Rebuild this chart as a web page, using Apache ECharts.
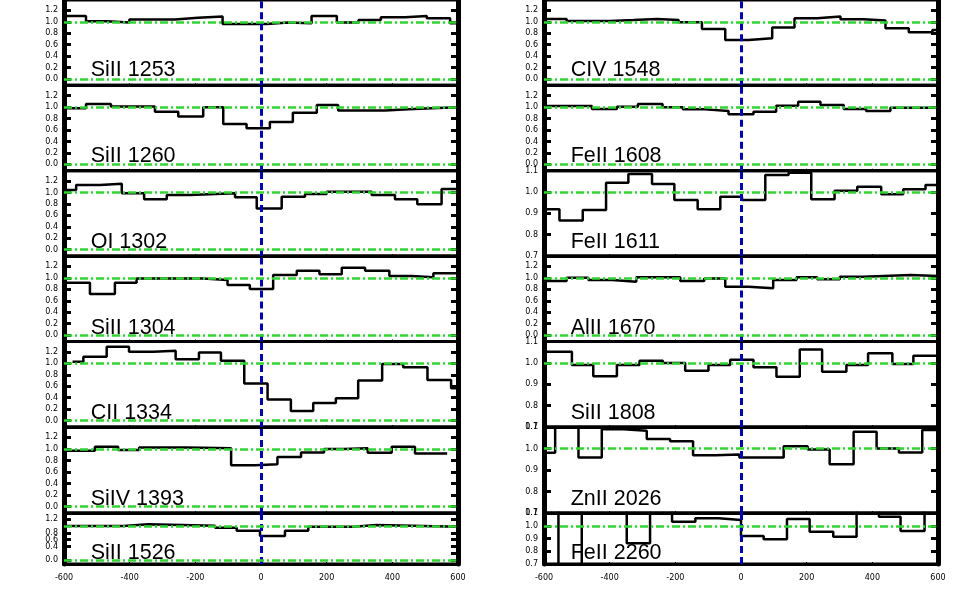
<!DOCTYPE html>
<html><head><meta charset="utf-8">
<script src="https://cdn.jsdelivr.net/npm/echarts@6/dist/echarts.min.js"></script>
<style>html,body{margin:0;padding:0;background:#fff}#c{width:960px;height:600px}</style>
</head><body><div id="c"></div>
<script>
// ---------- data ----------
const xTicks = [-600, -400, -200, 0, 200, 400, 600];
const yTicksStd = [0.0, 0.2, 0.4, 0.6, 0.8, 1.0, 1.2];
const yTicksZoom = [0.7, 0.8, 0.9, 1.0, 1.1];

// left column
const edges_SiII1253 = [-600, -533, -470, -401, -262, -192, -117, 17, 83, 154, 231, 297, 365, 439, 505, 576, 600];
const flux_SiII1253  = [1.10, 1.01, 0.985, 1.04, 1.07, 1.09, 0.96, 0.985, 0.975, 1.10, 0.985, 1.03, 1.08, 1.10, 1.06, 0.975];
const edges_SiII1260 = [-600, -533, -457, -323, -252, -176, -115, -44, 27, 97, 170, 235, 378, 449, 520, 600];
const flux_SiII1260  = [0.98, 1.055, 1.008, 0.92, 0.835, 0.997, 0.705, 0.63, 0.74, 0.90, 1.035, 0.94, 0.96, 0.98, 0.997];
const edges_OI1302 = [-600, -563, -490, -424, -356, -287, -216, -79, -13, 63, 134, 200, 337, 408, 476, 550, 600];
const flux_OI1302  = [1.044, 1.13, 1.15, 0.986, 0.88, 0.956, 0.986, 0.916, 0.72, 0.927, 0.974, 1.014, 0.956, 0.88, 0.794, 1.06];
const edges_SiII1304 = [-600, -521, -445, -379, -176, -102, -34, 37, 109, 178, 246, 317, 391, 459, 525, 600];
const flux_SiII1304  = [0.914, 0.717, 0.914, 0.99, 0.96, 0.874, 0.804, 1.05, 1.124, 1.06, 1.176, 1.124, 1.03, 1.01, 1.08];
const edges_CII1334 = [-574, -541, -470, -402, -328, -260, -189, -122, -51, 20, 91, 159, 228, 296, 369, 433, 507, 579, 600];
const flux_CII1334  = [1.028, 1.115, 1.29, 1.20, 1.22, 1.07, 1.19, 1.045, 0.65, 0.37, 0.167, 0.31, 0.39, 0.70, 0.988, 0.93, 0.71, 0.564];
const edges_SiIV1393 = [-600, -506, -435, -371, -226, -91, -18, 50, 122, 192, 253, 325, 398, 469, 567];
const flux_SiIV1393  = [0.967, 1.037, 0.98, 1.026, 1.01, 0.717, 0.735, 0.862, 0.94, 0.997, 1.01, 0.932, 1.037, 0.92];
const edges_SiII1526 = [-600, -419, -343, -140, -74, -3, 73, 144, 281, 352, 600];
const flux_SiII1526  = [1.0, 1.05, 1.01, 0.95, 0.86, 0.71, 0.86, 0.98, 1.03, 0.98];

// right column
const edges_CIV1548 = [-600, -531, -399, -328, -256, -190, -119, -48, 23, 95, 163, 232, 303, 374, 440, 511, 583, 600];
const flux_CIV1548  = [1.05, 1.014, 1.03, 1.05, 1.03, 0.99, 0.874, 0.68, 0.71, 0.90, 1.06, 1.09, 1.044, 1.02, 0.886, 0.817, 0.857];
const edges_FeII1608 = [-600, -454, -378, -314, -239, -177, -109, -38, 38, 107, 174, 242, 313, 381, 455, 600];
const flux_FeII1608  = [1.02, 0.967, 1.007, 1.054, 0.997, 0.96, 0.93, 0.873, 0.92, 1.024, 1.094, 1.037, 0.967, 0.93, 0.99];
const edges_FeII1611 = [-600, -553, -482, -411, -343, -271, -203, -132, -63, 3, 74, 145, 214, 285, 354, 427, 494, 562, 600];
const flux_FeII1611  = [0.919, 0.866, 0.916, 1.044, 1.085, 1.038, 0.963, 0.919, 0.978, 0.963, 1.08, 1.09, 0.966, 1.006, 1.025, 0.99, 1.013, 1.033];
const edges_AlII1670 = [-600, -531, -465, -393, -319, -185, -112, -48, 23, 98, 169, 232, 301, 372, 516, 600];
const flux_AlII1670  = [0.944, 1.002, 0.962, 0.932, 1.009, 0.944, 0.99, 0.845, 0.817, 0.962, 1.009, 0.974, 1.02, 1.05, 1.03];
const edges_SiII1808 = [-600, -515, -450, -378, -309, -238, -170, -99, -33, 38, 108, 179, 247, 321, 387, 461, 525, 600];
const flux_SiII1808  = [1.052, 0.99, 0.938, 0.99, 1.01, 1.0, 0.963, 0.99, 1.015, 0.979, 0.935, 1.063, 0.958, 0.99, 1.045, 0.995, 1.033];
const edges_ZnII2026 = [-600, -566, -495, -424, -358, -287, -216, -146, -78, -5, 130, 203, 270, 343, 413, 481, 552, 600];
const flux_ZnII2026  = [0.98, 1.12, 0.958, 1.089, 1.083, 1.044, 1.034, 0.969, 0.972, 0.958, 1.011, 0.995, 0.927, 1.078, 1.0, 0.981, 1.086];
const edges_FeII2260 = [-600, -556, -485, -348, -277, -210, -139, -68, 0, 69, 140, 209, 281, 352, 420, 486, 559, 600];
const flux_FeII2260  = [1.2, 0.6, 1.2, 0.862, 1.2, 1.032, 1.058, 1.045, 0.92, 0.894, 1.053, 0.953, 0.914, 1.2, 1.071, 0.959, 1.2];

const leftNames  = ['SiII 1253', 'SiII 1260', 'OI 1302', 'SiII 1304', 'CII 1334', 'SiIV 1393', 'SiII 1526'];
const rightNames = ['CIV 1548', 'FeII 1608', 'FeII 1611', 'AlII 1670', 'SiII 1808', 'ZnII 2026', 'FeII 2260'];
const leftEdges  = [edges_SiII1253, edges_SiII1260, edges_OI1302, edges_SiII1304, edges_CII1334, edges_SiIV1393, edges_SiII1526];
const leftFlux   = [flux_SiII1253, flux_SiII1260, flux_OI1302, flux_SiII1304, flux_CII1334, flux_SiIV1393, flux_SiII1526];
const rightEdges = [edges_CIV1548, edges_FeII1608, edges_FeII1611, edges_AlII1670, edges_SiII1808, edges_ZnII2026, edges_FeII2260];
const rightFlux  = [flux_CIV1548, flux_FeII1608, flux_FeII1611, flux_AlII1670, flux_SiII1808, flux_ZnII2026, flux_FeII2260];
const leftZoom   = [false, false, false, false, false, false, false];
const rightZoom  = [false, false, true, false, true, true, true];

// ---------- layout ----------
const colLeft = [64, 544];
const colWidth = 394;
const rowTop = [0, 85.3, 170.7, 256, 341.5, 427, 513, 564];
const labelBase = [76.7, 162.3, 248, 334, 419.3, 505.7, 559.5];
const labelX = [90.7, 570.7];
const GREEN = '#2ed82e';
const BLUE = '#0000cc';
const FONT = 'DejaVu Sans';

const grid = [], xAxis = [], yAxis = [], series = [], title = [];

function addPanel(col, row, name, edges, flux, zoom) {
  const gi = grid.length;
  grid.push({left: colLeft[col], top: rowTop[row], width: colWidth, height: rowTop[row + 1] - rowTop[row],
    show: true, borderColor: '#000', borderWidth: 3, backgroundColor: 'transparent'});
  const last = row === 6;
  xAxis.push({type: 'value', gridIndex: gi, min: -600, max: 600, interval: 200,
    axisLine: {show: true, onZero: false, lineStyle: {color: '#000', width: 3}},
    axisTick: {show: true, inside: true, length: 2, lineStyle: {color: '#000', width: 1}},
    axisLabel: {show: last, fontSize: 8, fontFamily: FONT, color: '#000', margin: 10,
      showMinLabel: true, showMaxLabel: true, hideOverlap: false, customValues: xTicks},
    splitLine: {show: false}});
  const ticks = zoom ? yTicksZoom : yTicksStd;
  const min = zoom ? 0.7 : -0.11, max = zoom ? 1.1 : 1.38;
  const yBase = {type: 'value', gridIndex: gi, min: min, max: max, splitLine: {show: false}};
  yAxis.push(Object.assign({}, yBase, {position: 'left',
    axisLine: {show: true, onZero: false, lineStyle: {color: '#000', width: 5}},
    axisTick: {show: true, inside: true, length: 7, customValues: ticks, lineStyle: {color: '#000', width: 3}},
    axisLabel: {show: true, fontSize: 8, fontFamily: FONT, color: '#000', margin: 6, customValues: ticks,
      interval: 0, hideOverlap: false, showMinLabel: true, showMaxLabel: true,
      formatter: v => Number(v).toFixed(1)}}));
  yAxis.push(Object.assign({}, yBase, {position: 'right',
    axisLine: {show: true, onZero: false, lineStyle: {color: '#000', width: 5}},
    axisTick: {show: true, inside: true, length: 7, customValues: ticks, lineStyle: {color: '#000', width: 3}},
    axisLabel: {show: false}}));
  const data = [];
  for (let i = 0; i < flux.length; i++) data.push([edges[i], flux[i]]);
  data.push([edges[edges.length - 1], flux[flux.length - 1]]);
  const ml = [{xAxis: 0, lineStyle: {color: BLUE, width: 3, type: [7, 4]}},
              {yAxis: 1, lineStyle: {color: GREEN, width: 2.5, type: [8, 3, 2, 3]}}];
  if (!zoom) ml.push({yAxis: 0, lineStyle: {color: GREEN, width: 2.5, type: [8, 3, 2, 3]}});
  series.push({type: 'line', xAxisIndex: gi, yAxisIndex: 2 * gi, data: data, step: 'end',
    symbol: 'none', clip: true, animation: false, silent: true,
    lineStyle: {color: '#000', width: 2.5},
    markLine: {silent: true, symbol: ['none', 'none'], label: {show: false}, animation: false,
      emphasis: {disabled: true}, data: ml}});
  title.push({text: name, left: labelX[col], top: labelBase[row] - 17.4, padding: 0,
    textStyle: {fontSize: 21.5, fontFamily: 'Liberation Sans, Arial, sans-serif', fontWeight: 'normal', color: '#000'}});
}

for (let r = 0; r < 7; r++) addPanel(0, r, leftNames[r], leftEdges[r], leftFlux[r], leftZoom[r]);
for (let r = 0; r < 7; r++) addPanel(1, r, rightNames[r], rightEdges[r], rightFlux[r], rightZoom[r]);

const chart = echarts.init(document.getElementById('c'), null, {renderer: 'canvas'});
chart.setOption({animation: false, backgroundColor: '#fff', title, grid, xAxis, yAxis, series});
</script>
</body></html>
